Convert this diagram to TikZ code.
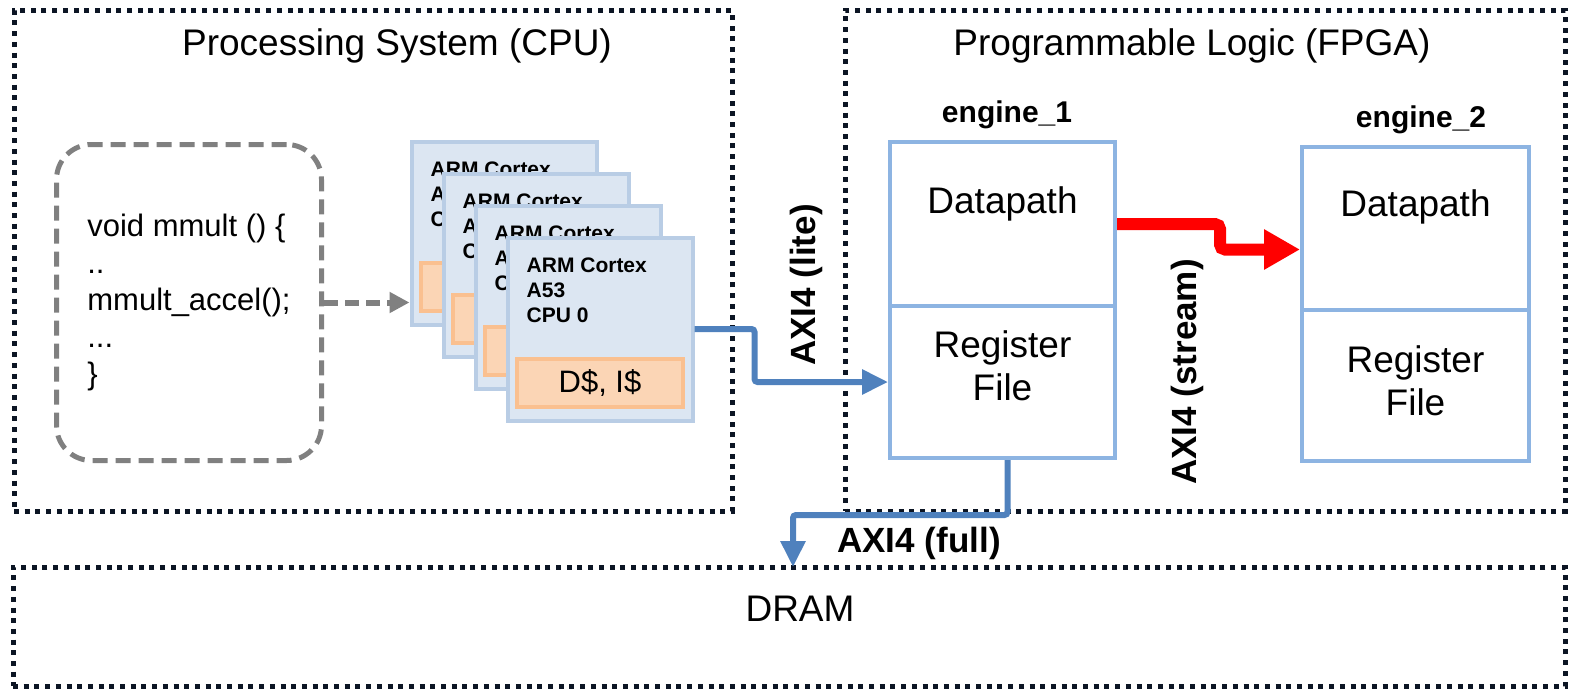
\documentclass[tikz,border=0pt]{standalone}
\usepackage{fontspec}
\setmainfont{Liberation Sans}
\usetikzlibrary{arrows.meta,positioning}
\definecolor{frame}{HTML}{0C1524}
\definecolor{codegray}{HTML}{808080}
\definecolor{cpuedge}{HTML}{B9CDE5}
\definecolor{cpufill}{HTML}{DCE6F2}
\definecolor{cacheedge}{HTML}{FAC090}
\definecolor{cachefill}{HTML}{FBD5B5}
\definecolor{engedge}{HTML}{8DB4E2}
\definecolor{axiblue}{HTML}{4F81BD}
\definecolor{axired}{HTML}{FF0000}
\tikzset{
  region/.style={draw=frame, line width=5pt, dash pattern=on 5pt off 5.7pt},
  title/.style={font=\fontsize{37}{44}\selectfont},
  codebox/.style={draw=codegray, line width=5pt, dash pattern=on 15pt off 8pt,
    rounded corners=35pt, minimum width=265, minimum height=316,
    align=left, font=\fontsize{31}{37}\selectfont},
  cpubox/.style={draw=cpuedge, fill=cpufill, line width=4pt,
    minimum width=185, minimum height=183},
  cachebox/.style={draw=cacheedge, fill=cachefill, line width=4pt,
    minimum width=166, minimum height=48, font=\fontsize{31}{36}\selectfont},
  cpulab/.style={font=\bfseries\fontsize{21}{25}\selectfont, align=left, inner sep=0pt},
  engbox/.style={draw=engedge, line width=4pt, minimum width=225},
  engtxt/.style={font=\fontsize{37}{43}\selectfont, align=center},
  englab/.style={font=\bfseries\fontsize{30}{36}\selectfont},
  axilab/.style={font=\bfseries\fontsize{35}{40}\selectfont},
  lite/.style={draw=axiblue, line width=6pt, rounded corners=3pt,
    -{Triangle[length=26pt,width=24pt]}},
  stream/.style={draw=axired, line width=12pt, rounded corners=5pt,
    -{Triangle[length=36pt,width=38pt]}},
  call/.style={draw=codegray, line width=6pt, dash pattern=on 14pt off 7pt,
    -{Triangle[length=20pt,width=20pt]}},
}

\begin{document}
\begin{tikzpicture}[x=1pt, y=-1pt]
  \useasboundingbox (0,0) rectangle (1570,691);

  % regions
  \node[region, minimum width=718, minimum height=501] (ps) at (373,260.5) {};
  \node[region, minimum width=720, minimum height=501] (pl) at (1205,260.5) {};
  \node[region, minimum width=1552, minimum height=119,
    label={[title, xshift=11pt, yshift=18pt]center:DRAM}] (dram) at (789,626.5) {};
  \node[title] (pstitle) at (397,46) {Processing System (CPU)};
  \node[title] (pltitle) at (1192,46) {Programmable Logic (FPGA)};

  % software side
  \node[codebox] (code) at (189,302.5) {void mmult () \{\\..\\mmult\_accel();\\...\\\}};

  % stacked cores, front one last
  \foreach \i/\n in {0/3,1/2,2/1,3/0}{
    \node[cpubox] (cpu\i) at (504+32*\i, 233+32*\i) {};
    \node[cpulab, anchor=north west] (cpulab\i) at ([xshift=21pt,yshift=-22pt]cpu\i.north west)
      {ARM Cortex\\A53\\CPU \n};
    \node[cachebox] (cache\i) at ([yshift=-54pt]cpu\i.center) {D\$, I\$};
  }

  % engines
  \node[engbox, minimum height=164,
    label={[engtxt, yshift=20pt]center:Datapath}] (dp1) at (1002.5,224) {};
  \node[engbox, minimum height=152,
    label={[engtxt, yshift=16pt]center:{Register\\File}}] (rf1) at (1002.5,382) {};
  \node[engbox, minimum width=227, minimum height=163,
    label={[engtxt, yshift=22pt]center:Datapath}] (dp2) at (1415.5,228.5) {};
  \node[engbox, minimum width=227, minimum height=151,
    label={[engtxt, yshift=5pt]center:{Register\\File}}] (rf2) at (1415.5,385.5) {};
  \node[englab] (eng1) at (1007,115) {engine\_1};
  \node[englab] (eng2) at (1421,120) {engine\_2};

  % buses
  \coordinate (memport) at (793,567);
  \draw[call] (code.east) -- (code.east -| cpu0.west);
  \draw[lite] (cpu3.east) -- ++(60,0) |- (rf1.west);
  \draw[stream] (dp1.east) -- ++(103,0) |- ([yshift=-21pt]dp2.west);
  \draw[lite] ([xshift=5pt]rf1.south) -- ++(0,55) -| (memport);

  \node[axilab, rotate=90] (litelab) at (806,285) {AXI4 (lite)};
  \node[axilab, rotate=90] (streamlab) at (1187,372) {AXI4 (stream)};
  \node[axilab] (fulllab) at (919,543) {AXI4 (full)};
\end{tikzpicture}
\end{document}
